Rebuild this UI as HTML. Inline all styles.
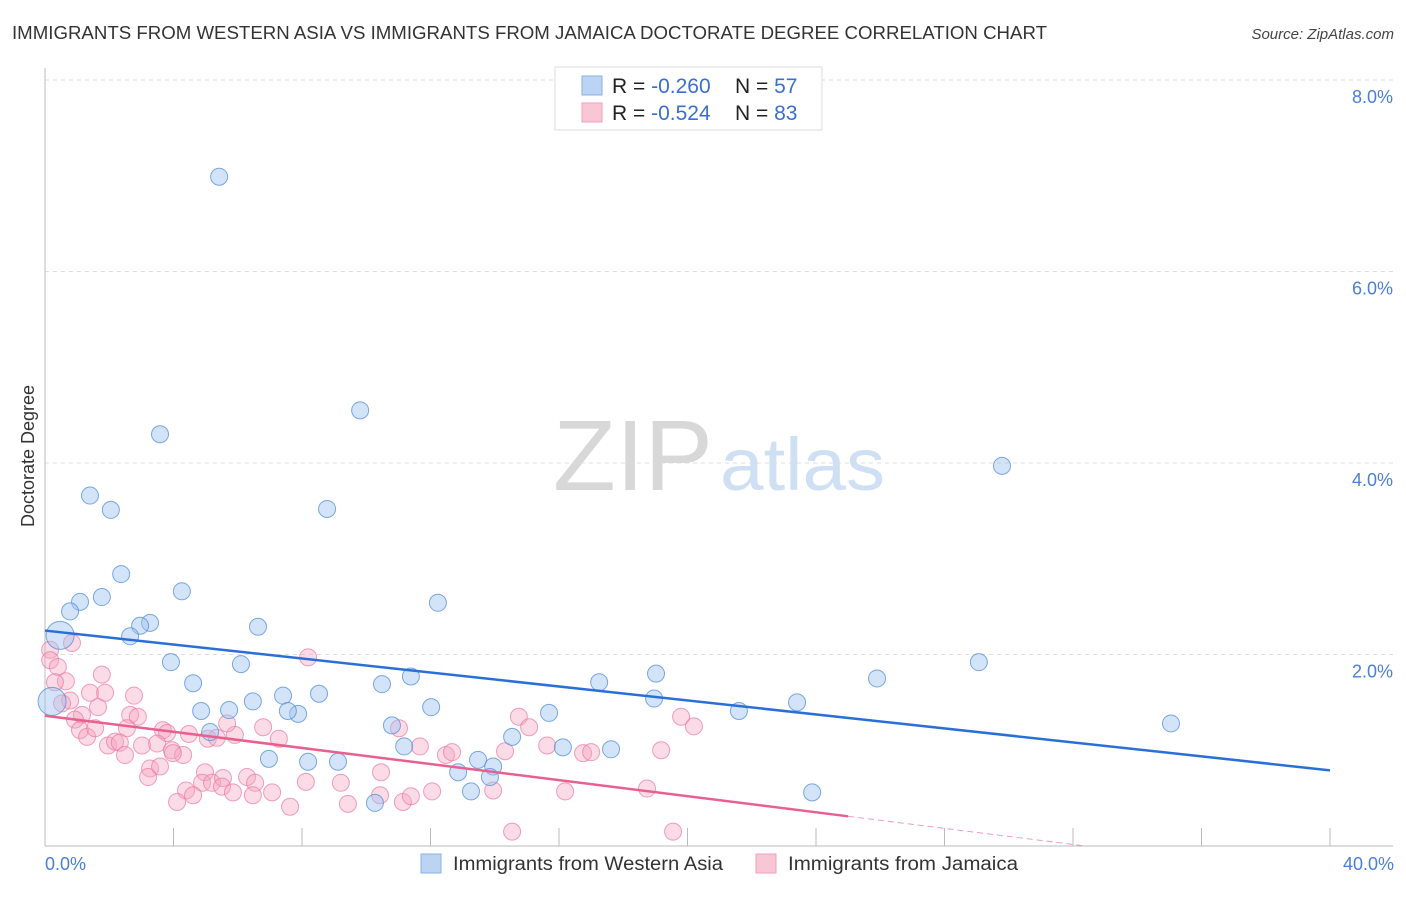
<!DOCTYPE html>
<html><head><meta charset="utf-8"><style>
body{margin:0;background:#fff;font-family:"Liberation Sans",sans-serif;}
svg text{font-family:"Liberation Sans",sans-serif;}
</style></head><body>
<svg id="chart" width="1406" height="892" xmlns="http://www.w3.org/2000/svg">
<text x="12" y="39" font-size="18" fill="#333" textLength="1035" lengthAdjust="spacingAndGlyphs">IMMIGRANTS FROM WESTERN ASIA VS IMMIGRANTS FROM JAMAICA DOCTORATE DEGREE CORRELATION CHART</text>
<text x="1394" y="39" font-size="15" fill="#444" text-anchor="end" font-style="italic">Source: ZipAtlas.com</text>
<text x="553" y="490" font-size="100" fill="#d8d8d8" font-family="Liberation Serif" textLength="160" lengthAdjust="spacingAndGlyphs">ZIP</text>
<text x="720" y="490" font-size="74" fill="#cfe0f5" textLength="165" lengthAdjust="spacingAndGlyphs">atlas</text>
<text transform="translate(34,456) rotate(-90)" font-size="18" fill="#333" text-anchor="middle">Doctorate Degree</text>
<g id="grid"></g><g id="axes"></g><g id="marks"></g>
<g>
<rect x="555" y="67" width="267" height="63" fill="#fff" stroke="#ddd"/>
<rect x="582" y="76" width="20" height="19" fill="#bcd4f4" stroke="#8ab2e6"/>
<rect x="582" y="103" width="20" height="19" fill="#f9c6d6" stroke="#f0a0b8"/>
<text x="612" y="93" font-size="21" fill="#222">R = <tspan fill="#3a6fd0">-0.260</tspan></text>
<text x="735" y="93" font-size="21" fill="#222">N = <tspan fill="#3a6fd0">57</tspan></text>
<text x="612" y="120" font-size="21" fill="#222">R = <tspan fill="#3a6fd0">-0.524</tspan></text>
<text x="735" y="120" font-size="21" fill="#222">N = <tspan fill="#3a6fd0">83</tspan></text>
</g>
<g>
<rect x="421" y="854" width="20" height="19" fill="#bcd4f4" stroke="#8ab2e6"/>
<text x="453" y="870" font-size="19" fill="#333" textLength="270" lengthAdjust="spacingAndGlyphs">Immigrants from Western Asia</text>
<rect x="756" y="854" width="20" height="19" fill="#f9c6d6" stroke="#f0a0b8"/>
<text x="788" y="870" font-size="19" fill="#333" textLength="230" lengthAdjust="spacingAndGlyphs">Immigrants from Jamaica</text>
</g>
</svg>
<script>
const yTicks=[2,4,6,8];
const yTickLabels=["2.0%","4.0%","6.0%","8.0%"];
const xEndLabels=["0.0%","40.0%"];
const blueX=[5.42,9.81,3.58,29.79,1.40,2.05,8.78,2.37,4.26,1.77,1.09,0.78,12.23,3.27,2.96,6.63,2.65,0.47,29.07,3.92,6.10,19.02,25.90,4.61,10.49,11.39,17.25,8.53,7.41,6.47,18.96,23.41,0.22,12.02,5.73,4.86,35.05,21.60,7.88,15.69,7.56,10.80,14.54,5.14,11.18,16.12,17.62,6.97,8.19,9.12,13.48,12.86,13.95,13.85,13.26,23.88,10.27];
const blueY=[6.99,4.55,4.30,3.97,3.66,3.51,3.52,2.84,2.66,2.60,2.55,2.45,2.54,2.33,2.30,2.29,2.19,2.20,1.92,1.92,1.90,1.80,1.75,1.70,1.69,1.77,1.71,1.59,1.57,1.51,1.54,1.50,1.51,1.45,1.42,1.41,1.28,1.41,1.38,1.39,1.41,1.26,1.14,1.19,1.04,1.03,1.01,0.91,0.88,0.88,0.90,0.77,0.83,0.72,0.57,0.56,0.45];
const blueBig=[17,32];
const pinkX=[0.84,0.16,0.16,0.40,1.77,0.65,0.31,8.19,1.40,1.87,2.77,0.78,0.53,1.65,2.65,2.89,1.15,0.93,1.09,1.31,1.56,2.55,3.67,3.80,4.48,5.07,5.35,5.91,5.67,6.79,7.28,1.96,2.18,2.33,2.49,3.02,3.49,3.95,4.30,3.98,3.27,3.21,3.58,4.98,4.89,5.20,5.54,5.51,6.29,6.54,5.85,6.47,7.07,4.39,4.61,4.11,8.12,7.63,9.21,9.43,10.46,10.43,11.02,11.67,11.14,11.39,12.05,12.48,12.67,13.95,14.32,14.75,15.07,14.54,15.63,16.75,17.00,16.19,19.18,19.80,20.20,18.74,19.55];
const pinkY=[2.12,2.05,1.94,1.87,1.79,1.72,1.71,1.97,1.60,1.60,1.57,1.52,1.49,1.45,1.37,1.35,1.37,1.32,1.21,1.14,1.23,1.23,1.21,1.18,1.17,1.12,1.13,1.16,1.28,1.24,1.12,1.05,1.09,1.08,0.95,1.05,1.07,1.00,0.95,0.97,0.81,0.72,0.83,0.77,0.66,0.66,0.71,0.62,0.72,0.66,0.56,0.53,0.56,0.58,0.53,0.46,0.67,0.41,0.66,0.44,0.77,0.53,1.23,1.04,0.46,0.52,0.57,0.95,0.98,0.58,0.99,1.35,1.24,0.15,1.05,0.97,0.98,0.57,1.00,1.35,1.25,0.60,0.15];
const blueTrend=[2.25,0.79];
const pinkTrend=[1.36,0.31,25];
const NS="http://www.w3.org/2000/svg";
const X=v=>45+v/40*1285, Y=v=>846-v*95.75;
function mk(t,a,p){const e=document.createElementNS(NS,t);for(const k in a)e.setAttribute(k,a[k]);p.appendChild(e);return e;}
const grid=document.getElementById('grid'),axes=document.getElementById('axes'),marks=document.getElementById('marks');
yTicks.forEach((t,i)=>{
 const l=mk('line',{x1:45,x2:1393,y1:Y(t),y2:Y(t),stroke:'#ddd','stroke-dasharray':'4,4'},grid);
 
 
 const tx=mk('text',{x:1393,y:Y(t)+23,'font-size':18,fill:'#4a7fd6','text-anchor':'end'},axes);
 tx.textContent=yTickLabels[i];
 
 
});
const ax=mk('line',{x1:45,x2:1393,y1:846,y2:846,stroke:'#bbb'},axes);


const ay=mk('line',{x1:45,x2:45,y1:68,y2:846,stroke:'#bbb'},axes);


for(let i=1;i<=10;i++){const t=mk('line',{x1:X(i*4),x2:X(i*4),y1:828,y2:846,stroke:'#bbb'},axes);
 
 }
[0,40].forEach((v,i)=>{const t=mk('text',{x:i?1394:45,y:870,'font-size':18,fill:'#4a7fd6','text-anchor':i?'end':'start'},axes);
 t.textContent=xEndLabels[i];
 
 });
pinkX.forEach((x,i)=>{const c=mk('circle',{cx:X(x),cy:Y(pinkY[i]),r:8.5,fill:'rgba(246,166,192,0.4)',stroke:'rgba(236,120,158,0.7)','stroke-width':1},marks);
 
 });
blueX.forEach((x,i)=>{const big=blueBig.includes(i);const c=mk('circle',{cx:X(x),cy:Y(blueY[i]),r:big?14:8.5,fill:'rgba(160,196,240,0.45)',stroke:'rgba(80,140,220,0.75)','stroke-width':1},marks);
 
 });
const bl=mk('line',{x1:X(0),y1:Y(blueTrend[0]),x2:X(40),y2:Y(blueTrend[1]),stroke:'#2a6fd8','stroke-width':2.5},marks);


const pl=mk('line',{x1:X(0),y1:Y(pinkTrend[0]),x2:X(pinkTrend[2]),y2:Y(pinkTrend[1]),stroke:'#e8608e','stroke-width':2.5},marks);


const slope=(pinkTrend[1]-pinkTrend[0])/pinkTrend[2];const xz=-pinkTrend[0]/slope;
const pd=mk('line',{x1:X(pinkTrend[2]),y1:Y(pinkTrend[1]),x2:X(xz),y2:Y(0),stroke:'#e8a0b8','stroke-width':1,'stroke-dasharray':'6,4'},marks);


</script>
</body></html>
